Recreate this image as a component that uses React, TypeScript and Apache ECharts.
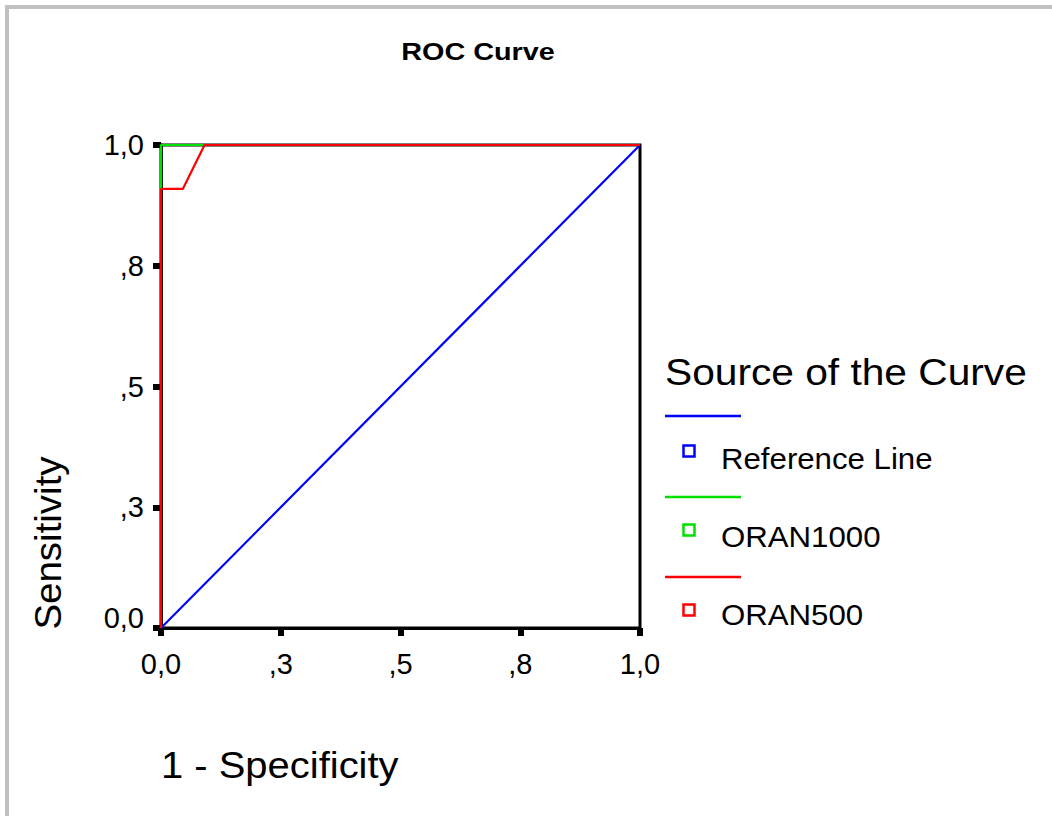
import React, { useEffect, useRef } from 'react';
import * as echarts from 'echarts';

const tickValues = [0, 0.25, 0.5, 0.75, 1];
const tickLabels = ['0,0', ',3', ',5', ',8', '1,0'];
const seriesNames = ['Reference Line', 'ORAN1000', 'ORAN500'];
const seriesColors = ['#0000ff', '#00e000', '#ff0000'];
const referenceX = [0, 1];
const referenceY = [0, 1];
const oran1000X = [0, 0, 1];
const oran1000Y = [0, 1, 1];
const oran500X = [0, 0, 0.0455, 0.0909, 1];
const oran500Y = [0, 0.909, 0.909, 1, 1];
const chartTitle = 'ROC Curve';
const xAxisName = '1 - Specificity';
const yAxisName = 'Sensitivity';
const legendTitle = 'Source of the Curve';

const FONT = '"Liberation Sans", Arial, sans-serif';

const pairs = (xs: number[], ys: number[]) => xs.map((x, i) => [x, ys[i]]);

const labelFor = (v: number) => {
  const i = tickValues.findIndex((t) => Math.abs(t - v) < 1e-6);
  return i >= 0 ? tickLabels[i] : '';
};

const txt = (
  text: string,
  x: number,
  y: number,
  size: number,
  opts: { bold?: boolean; align?: string; scaleX?: number; rotation?: number } = {}
) => ({
  type: 'text',
  x,
  y,
  scaleX: opts.scaleX ?? 1,
  rotation: opts.rotation ?? 0,
  style: {
    text,
    x: 0,
    y: 0,
    font: `${opts.bold ? 'bold ' : ''}${size}px ${FONT}`,
    fill: '#000',
    align: opts.align ?? 'left',
    textAlign: opts.align ?? 'left',
    verticalAlign: 'middle',
    textVerticalAlign: 'middle',
  },
});

export default function App() {
  const ref = useRef<HTMLDivElement>(null);

  useEffect(() => {
    if (!ref.current) return;
    const chart = echarts.init(ref.current, undefined, { renderer: 'svg' });

    const data = [pairs(referenceX, referenceY), pairs(oran1000X, oran1000Y), pairs(oran500X, oran500Y)];

    const legendLineY = [416, 497, 577];
    const legendBoxY = [451, 530, 610];
    const legendTextY = [458, 536, 614];

    const graphic: any[] = [
      { type: 'rect', shape: { x: 5, y: 5, width: 1047, height: 4 }, style: { fill: '#c0c0c0' } },
      { type: 'rect', shape: { x: 5, y: 5, width: 4, height: 811 }, style: { fill: '#c0c0c0' } },
      txt(chartTitle, 478, 52, 24, { bold: true, align: 'center', scaleX: 1.2 }),
      txt(yAxisName, 48, 543, 37, { align: 'center', scaleX: 1.04, rotation: Math.PI / 2 }),
      txt(xAxisName, 161, 765, 37, { align: 'left', scaleX: 1.08 }),
      txt(legendTitle, 665, 372, 37, { align: 'left', scaleX: 1.1 }),
    ];
    seriesNames.forEach((name, i) => {
      graphic.push({
        type: 'line',
        shape: { x1: 665, y1: legendLineY[i], x2: 741, y2: legendLineY[i] },
        style: { stroke: seriesColors[i], lineWidth: 2.5 },
      });
      graphic.push({
        type: 'rect',
        shape: { x: 683.5, y: legendBoxY[i] - 5.5, width: 11, height: 11 },
        style: { fill: '#fff', stroke: seriesColors[i], lineWidth: 2.5 },
      });
      graphic.push(txt(name, 721, legendTextY[i], 30, { align: 'left', scaleX: 1.04 }));
    });

    chart.setOption({
      animation: false,
      backgroundColor: '#fff',
      grid: {
        left: 161,
        top: 145,
        width: 479,
        height: 483,
        show: true,
        borderColor: '#000',
        borderWidth: 3,
        backgroundColor: '#fff',
      },
      xAxis: {
        type: 'value',
        min: 0,
        max: 1,
        interval: 0.25,
        splitLine: { show: false },
        axisLine: { show: true, lineStyle: { color: '#000', width: 3 } },
        axisTick: { show: true, length: 8, lineStyle: { color: '#000', width: 6 } },
        axisLabel: {
          margin: 21,
          color: '#000',
          fontSize: 29,
          fontFamily: FONT,
          formatter: (v: number) => labelFor(v),
        },
      },
      yAxis: {
        type: 'value',
        min: 0,
        max: 1,
        interval: 0.25,
        splitLine: { show: false },
        axisLine: { show: true, lineStyle: { color: '#000', width: 3 } },
        axisTick: { show: true, length: 8, lineStyle: { color: '#000', width: 6 } },
        axisLabel: {
          margin: 17,
          color: '#000',
          fontSize: 29,
          fontFamily: FONT,
          formatter: (v: number) => (Math.abs(v) < 1e-6 ? '{lift|' + labelFor(v) + '}' : labelFor(v)),
          rich: {
            lift: { fontSize: 29, fontFamily: FONT, color: '#000', padding: [0, 0, 20, 0] },
          },
        },
      },
      series: seriesNames.map((name, i) => ({
        name,
        type: 'line',
        data: data[i],
        showSymbol: false,
        symbol: 'none',
        lineStyle: { color: seriesColors[i], width: 2.2 },
        z: 3 + i,
      })),
      graphic,
    });

    return () => chart.dispose();
  }, []);

  return (
    <div
      ref={ref}
      style={{ position: 'fixed', left: 0, top: 0, width: 1052, height: 816, background: '#fff' }}
    />
  );
}
